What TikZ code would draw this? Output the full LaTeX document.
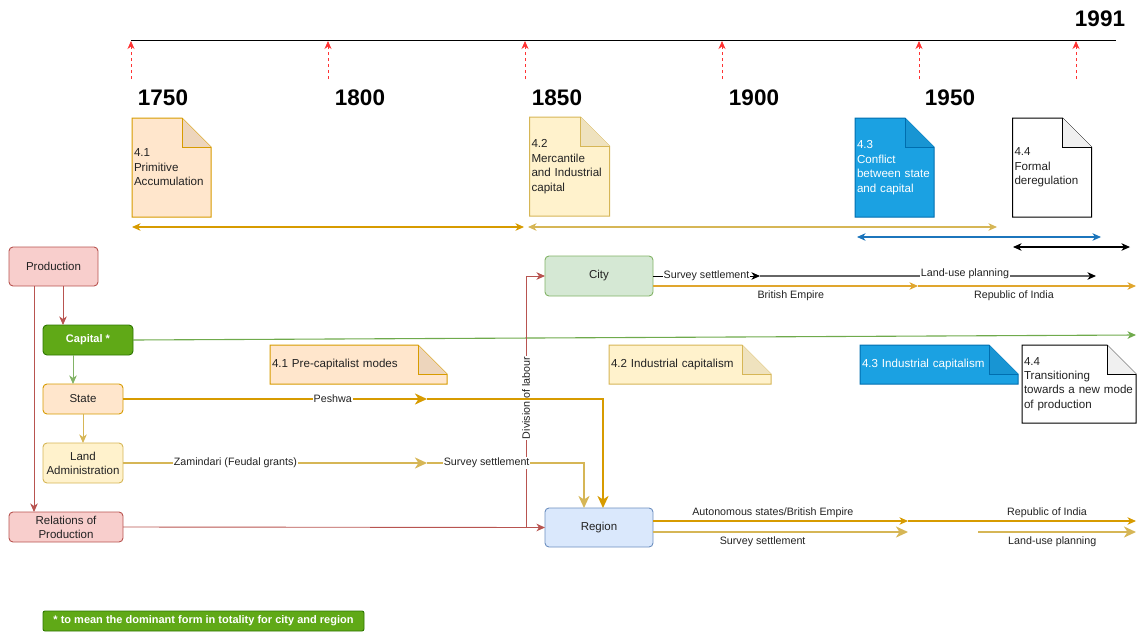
\documentclass[tikz,border=0pt]{standalone}
\usepackage{fontspec}
\setmainfont{Liberation Sans}
\usetikzlibrary{arrows.meta,backgrounds,calc}
\definecolor{redS}{HTML}{B85450}
\definecolor{redF}{HTML}{F8CECC}
\definecolor{orgS}{HTML}{D79B00}
\definecolor{orgF}{HTML}{FFE6CC}
\definecolor{orgD}{HTML}{EDD5BC}
\definecolor{ylwS}{HTML}{D6B656}
\definecolor{ylwF}{HTML}{FFF2CC}
\definecolor{ylwD}{HTML}{EFE2BE}
\definecolor{grnS}{HTML}{82B366}
\definecolor{grnF}{HTML}{D5E8D4}
\definecolor{capF}{HTML}{60A917}
\definecolor{capS}{HTML}{2D7600}
\definecolor{capL}{HTML}{6FAA4C}
\definecolor{bluS}{HTML}{6C8EBF}
\definecolor{bluF}{HTML}{DAE8FC}
\definecolor{cyaF}{HTML}{1BA1E2}
\definecolor{cyaS}{HTML}{006EAF}
\definecolor{cyaD}{HTML}{1895D3}
\definecolor{tickC}{HTML}{FF3333}
\definecolor{lineB}{HTML}{1C75BC}
\definecolor{cityO}{HTML}{E0A62E}
\definecolor{grayL}{HTML}{666666}
\definecolor{txt}{HTML}{222222}
\newcommand\fsz[2]{\fontsize{#1}{#2}\selectfont}
\newcommand\foldnote[5]{%
\begin{scope}[on background layer]
\filldraw[fill=#2,draw=#3,line width=1pt] (#1.north west) -- ([xshift=-#5]#1.north east) -- ([yshift=-#5]#1.north east) -- (#1.south east) -- (#1.south west) -- cycle;
\filldraw[fill=#4,draw=#3,line width=1pt] ([xshift=-#5]#1.north east) -- ([xshift=-#5,yshift=-#5]#1.north east) -- ([yshift=-#5]#1.north east);
\end{scope}}
\tikzset{
  box/.style={rounded corners=4pt, line width=0.9pt, align=center, inner sep=1pt, outer sep=0pt, font=\fsz{11.5}{13.8}, text=txt},
  notebox/.style={inner sep=2pt, outer sep=0pt, align=left, font=\fsz{11.6}{14.5}, text=txt},
  lab/.style={font=\fsz{10.7}{12.5}, fill=white, inner sep=1pt, text=txt},
  labn/.style={font=\fsz{10.7}{12.5}, inner sep=1pt, text=txt},
  year/.style={font=\fsz{22.5}{26}\bfseries, inner sep=0pt},
  arr/.style={-{Stealth[length=8.5pt,width=7.5pt,inset=2.5pt]}},
  arrb/.style={-{Stealth[length=12pt,width=11pt,inset=3.5pt]}},
  darr/.style={{Stealth[length=8.5pt,width=7.5pt,inset=2.5pt]}-{Stealth[length=8.5pt,width=7.5pt,inset=2.5pt]}},
  tickarr/.style={tickC, line width=0.8pt, dash pattern=on 3pt off 3pt, -{Stealth[length=8pt,width=7pt,inset=2.5pt]}},
}
\begin{document}
\begin{tikzpicture}[x=1pt,y=-1pt]
\useasboundingbox (0,0) rectangle (1138,632);

% timeline
\coordinate (tlA) at (131,40);
\coordinate (tlB) at (1116,40);
\draw[line width=0.9pt] (tlA) -- (tlB);
\foreach \i/\x in {1/131,2/328,3/525,4/722,5/919,6/1076}{
  \coordinate (tb\i) at (\x,79);
  \coordinate (tt\i) at (\x,41);
  \draw[tickarr] (tb\i) -- (tt\i);
}
\node[year] (y1750) at (163,98) {1750};
\node[year] (y1800) at (360,98) {1800};
\node[year] (y1850) at (557,98) {1850};
\node[year] (y1900) at (754,98) {1900};
\node[year] (y1950) at (950,98) {1950};
\node[year] (y1991) at (1100,19) {1991};

% top notes
\node[notebox, text width=75pt, minimum height=99pt] (n41) at (171.5,167.5) {4.1\\Primitive\\Accumulation};
\foldnote{n41}{orgF}{orgS}{orgD}{29pt}
\node[notebox, text width=76pt, minimum height=99pt] (n42) at (569.5,166.5) {4.2\\Mercantile\\and Industrial\\capital};
\foldnote{n42}{ylwF}{ylwS}{ylwD}{29pt}
\node[notebox, text width=75pt, minimum height=99pt, text=white] (n43) at (894.5,167.5) {4.3\\Conflict\\between state\\and capital};
\foldnote{n43}{cyaF}{cyaS}{cyaD}{29pt}
\node[notebox, text width=75pt, minimum height=99pt] (n44) at (1052,167.5) {4.4\\Formal\\deregulation};
\foldnote{n44}{white}{black}{black!6}{29pt}

% period arrows
\coordinate (p1a) at (132,227); \coordinate (p1b) at (524,227);
\coordinate (p2a) at (528,227); \coordinate (p2b) at (997,227);
\coordinate (p3a) at (857,237); \coordinate (p3b) at (1101,237);
\coordinate (p4a) at (1013,247); \coordinate (p4b) at (1130,247);
\draw[darr, orgS, line width=1.1pt] (p1a) -- (p1b);
\draw[darr, ylwS, line width=1.1pt] (p2a) -- (p2b);
\draw[darr, lineB, line width=1.1pt] (p3a) -- (p3b);
\draw[darr, black, line width=1.1pt] (p4a) -- (p4b);

% left boxes
\node[box, draw=redS, fill=redF, minimum width=89pt, minimum height=39pt] (prod) at (53.5,266.5) {Production};
\node[box, draw=capS, fill=capF, minimum width=90pt, minimum height=30pt, text=white, font=\fsz{11}{13}\bfseries] (cap) at (88,340) {Capital *};
\node[box, draw=orgS, fill=orgF, minimum width=80pt, minimum height=30pt] (state) at (83,399) {State};
\node[box, draw=ylwS, fill=ylwF, minimum width=80pt, minimum height=40pt] (land) at (83,463) {Land\\Administration};
\node[box, draw=redS, fill=redF, minimum width=114pt, minimum height=30pt] (rel) at (66,527) {Relations of\\Production};
\node[box, draw=grnS, fill=grnF, minimum width=108pt, minimum height=40pt] (city) at (599,276) {City};
\node[box, draw=bluS, fill=bluF, minimum width=108pt, minimum height=39pt] (region) at (599,527.5) {Region};

% mid notes
\node[notebox, text width=173pt, minimum height=39pt] (m41) at (358.5,364.5) {4.1 Pre-capitalist modes};
\foldnote{m41}{orgF}{orgS}{orgD}{29pt}
\node[notebox, text width=158pt, minimum height=39pt] (m42) at (690,364.5) {4.2 Industrial capitalism};
\foldnote{m42}{ylwF}{ylwS}{ylwD}{29pt}
\node[notebox, text width=154pt, minimum height=39pt, text=white] (m43) at (939,364.5) {4.3 Industrial capitalism};
\foldnote{m43}{cyaF}{cyaS}{cyaD}{29pt}
\node[notebox, text width=110pt, minimum height=78pt, font=\fsz{11.6}{14.2}] (m44) at (1079,384) {4.4\\Transitioning\\towards a new mode\\of production};
\foldnote{m44}{white}{black}{black!6}{29pt}

% left connectors
\draw[redS, line width=0.9pt, arr] ([xshift=9.5pt]prod.south) -- ([xshift=-25pt]cap.north);
\draw[redS, line width=0.9pt, arr] ([xshift=-19.5pt]prod.south) -- ([xshift=-32pt]rel.north);
\draw[grnS, line width=0.9pt, arr] ([xshift=-15pt]cap.south) -- ([xshift=-10pt]state.north);
\draw[ylwS, line width=0.9pt, arr] (state.south) -- (land.north);

% capital line
\coordinate (capend) at (1136,335);
\draw[capL, line width=1.1pt, arr] (cap.east) -- (capend);

% relations -> region, division of labour
\coordinate (dj) at (526,527);
\draw[redS, line width=0.9pt, arr] (rel.east) -- (region.west);
\draw[redS, line width=0.9pt, arr] (dj) |- (city.west) node[pos=0.257, lab, rotate=90] {Division of labour};

% state -> region (Peshwa)
\coordinate (pm) at (427,399);
\draw[orgS, line width=2pt, arrb] (state.east) -- (pm) node[pos=0.69, lab] {Peshwa};
\draw[orgS, line width=2pt, arrb] (pm) -| ([xshift=4pt]region.north);

% land -> region
\coordinate (lm) at (427,463);
\draw[ylwS, line width=2pt, arrb] (land.east) -- (lm) node[pos=0.37, lab] {Zamindari (Feudal grants)};
\draw[ylwS, line width=2pt, arrb] (lm) -| ([xshift=-15pt]region.north) node[pos=0.19, lab] {Survey settlement};

% city lines
\coordinate (cs1) at (760,276);
\coordinate (cs2) at (1096,276);
\draw[black, line width=0.9pt, arr] (city.east) -- (cs1) node[midway, lab] {Survey settlement};
\draw[grayL, line width=1.2pt, -{Stealth[length=8.5pt,width=7.5pt,inset=2.5pt,black]}] (cs1) -- (cs2) node[pos=0.61, lab, yshift=2pt] {Land-use planning};
\coordinate (co1) at (918,286);
\coordinate (co2) at (1136,286);
\draw[cityO, line width=1.1pt, arr] ([yshift=-10pt]city.east) -- (co1) node[pos=0.52, labn, below=3pt] {British Empire};
\draw[cityO, line width=1.1pt, arr] (co1) -- (co2) node[pos=0.44, labn, below=3pt] {Republic of India};

% region lines
\coordinate (ro1) at (908,521);
\coordinate (ro2) at (1136,521);
\draw[orgS, line width=1.1pt, arr] ([yshift=6.5pt]region.east) -- (ro1) node[pos=0.47, labn, above=2pt] {Autonomous states/British Empire};
\draw[orgS, line width=1.1pt, arr] (ro1) -- (ro2) node[pos=0.61, labn, above=2pt] {Republic of India};
\coordinate (rs1) at (908,532);
\coordinate (rs2) at (978,532);
\coordinate (rs3) at (1136,532);
\draw[ylwS, line width=2pt, arrb] ([yshift=-4.5pt]region.east) -- (rs1) node[pos=0.43, labn, below=3pt] {Survey settlement};
\draw[ylwS, line width=2pt, arrb] (rs2) -- (rs3) node[pos=0.47, labn, below=3pt] {Land-use planning};

% legend
\node[box, draw=capS, fill=capF, text=white, minimum width=321pt, minimum height=20pt, rounded corners=2pt, font=\fsz{11}{13}\bfseries] (leg) at (203.5,621) {* to mean the dominant form in totality for city and region};
\end{tikzpicture}
\end{document}
